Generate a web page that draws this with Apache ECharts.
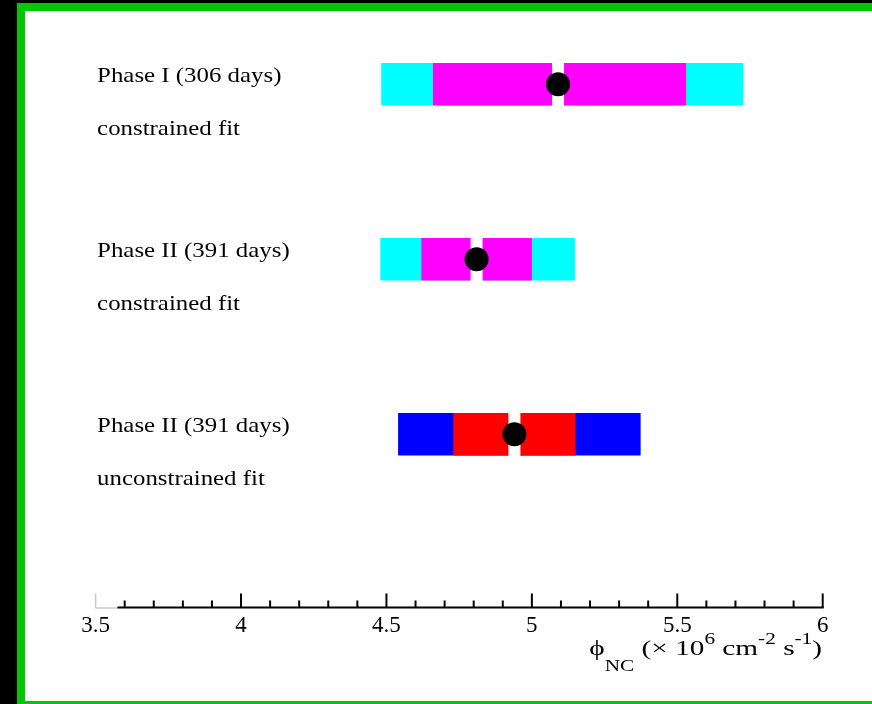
<!DOCTYPE html>
<html>
<head>
<meta charset="utf-8">
<script src="https://cdn.jsdelivr.net/npm/echarts@6/dist/echarts.min.js"></script>
<style>
  html, body { margin: 0; padding: 0; background: #000; width: 872px; height: 704px; overflow: hidden; }
  #frame { position: absolute; left: 17px; top: 3px; width: 855px; height: 701px; box-sizing: border-box;
           background: #fff; border-left: 8px solid #00c800; border-top: 8px solid #00c800; border-bottom: 3px solid #00c800; }
  #chart { position: absolute; left: 0; top: 0; width: 872px; height: 704px; }
</style>
</head>
<body>
<div id="frame"></div>
<div id="chart"></div>
<script>
// NC flux measurements, one row per fit (top to bottom)
const rowTitles = ['Phase I (306 days)', 'Phase II (391 days)', 'Phase II (391 days)'];
const fitTypes  = ['constrained fit', 'constrained fit', 'unconstrained fit'];
const rowPos    = [3, 2, 1];
const central   = [5.09, 4.81, 4.94];
const statLo    = [4.66, 4.62, 4.73];
const statHi    = [5.53, 5.00, 5.15];
const totalLo   = [4.482, 4.479, 4.54];
const totalHi   = [5.727, 5.148, 5.374];
const outerColors = ['#00ffff', '#00ffff', '#0000ff'];
const innerColors = ['#ff00ff', '#ff00ff', '#ff0000'];

// axis ticks
const axisMin = 3.5, axisMax = 6, labelStep = 0.5;
const axisLineStart = 3.575;
const majorTicks = [4.0, 4.5, 5.0, 5.5, 6.0];
const minorTicks = [3.6, 3.7, 3.8, 3.9, 4.1, 4.2, 4.3, 4.4, 4.6, 4.7, 4.8, 4.9,
                    5.1, 5.2, 5.3, 5.4, 5.6, 5.7, 5.8, 5.9];

const SERIF = '"Liberation Serif", "Times New Roman", serif';
const TEXT_STRETCH = 1.13;
const TITLE_STRETCH = 1.33;

const barData = rowPos.map((r, i) => [r, totalLo[i], statLo[i], central[i], statHi[i], totalHi[i]]);

const chart = echarts.init(document.getElementById('chart'), null, { renderer: 'canvas' });

function renderBar(params, api) {
  const i = params.dataIndex;
  const row = api.value(0);
  const yc = api.coord([axisMin, row])[1];
  const half = 21.3;
  const x = v => api.coord([v, row])[0];
  const tLo = x(api.value(1)), sLo = x(api.value(2)), c = x(api.value(3));
  const sHi = x(api.value(4)), tHi = x(api.value(5));
  return {
    type: 'group',
    children: [
      { type: 'rect', shape: { x: tLo, y: yc - half, width: tHi - tLo, height: 2 * half }, style: { fill: outerColors[i] } },
      { type: 'rect', shape: { x: sLo, y: yc - half, width: sHi - sLo, height: 2 * half }, style: { fill: innerColors[i] } },
      { type: 'rect', shape: { x: c - 6, y: yc - half - 1, width: 12, height: 2 * half + 2 }, style: { fill: '#fff' } },
      { type: 'circle', shape: { cx: c, cy: yc, r: 12 }, style: { fill: '#000' } }
    ]
  };
}

function renderRowLabel(params, api) {
  const i = params.dataIndex;
  const row = api.value(0);
  const yc = api.coord([axisMin, row])[1];
  const x0 = params.coordSys.x + 1.5;
  const mk = (text, dy) => ({
    type: 'text', x: x0, y: yc + dy, scaleX: TEXT_STRETCH,
    style: { text, fill: '#000', fontFamily: SERIF, fontSize: 22, align: 'left', verticalAlign: 'middle' }
  });
  return { type: 'group', children: [mk(rowTitles[i], -8), mk(fitTypes[i], 45)] };
}

function renderAxis(params, api) {
  const y0 = params.coordSys.y + params.coordSys.height;
  const px = v => api.coord([v, 1])[0];
  const children = [];
  // faint stub at the axis origin
  children.push({ type: 'line', shape: { x1: px(axisMin), y1: y0 - 14, x2: px(axisMin), y2: y0 + 0.5 }, style: { stroke: '#c8c8c8', lineWidth: 1.5 } });
  children.push({ type: 'line', shape: { x1: px(axisMin), y1: y0 + 0.5, x2: px(axisLineStart), y2: y0 + 0.5 }, style: { stroke: '#c8c8c8', lineWidth: 1.5 } });
  children.push({ type: 'line', shape: { x1: px(axisLineStart), y1: y0, x2: px(axisMax) + 1, y2: y0 }, style: { stroke: '#000', lineWidth: 2 } });
  majorTicks.forEach(v => children.push({ type: 'line', shape: { x1: px(v), y1: y0, x2: px(v), y2: y0 - 14 }, style: { stroke: '#000', lineWidth: 2 } }));
  minorTicks.forEach(v => children.push({ type: 'line', shape: { x1: px(v), y1: y0, x2: px(v), y2: y0 - 7 }, style: { stroke: '#000', lineWidth: 2 } }));
  return { type: 'group', children };
}

chart.setOption({
  animation: false,
  backgroundColor: 'transparent',
  grid: { left: 95.6, right: 49.3, top: 5.5, bottom: 96.5, containLabel: false },
  xAxis: {
    type: 'value', min: axisMin, max: axisMax, interval: labelStep,
    axisLine: { show: false }, axisTick: { show: false }, splitLine: { show: false },
    axisLabel: { show: true, margin: 7, color: '#000', fontFamily: SERIF, fontSize: 23,
                 formatter: v => String(v) }
  },
  yAxis: { type: 'value', min: 0.01, max: 3.45, show: false, splitLine: { show: false } },
  series: [
    { type: 'custom', name: 'axis', renderItem: renderAxis, data: [[0, 0]], silent: true, z: 1 },
    { type: 'custom', name: 'flux', renderItem: renderBar, data: barData,
      encode: { x: [1, 2, 3, 4, 5], y: 0 }, z: 2 },
    { type: 'custom', name: 'labels', renderItem: renderRowLabel, data: rowPos.map(r => [r]),
      encode: { y: 0 }, silent: true, z: 3 }
  ],
  graphic: [{
    type: 'text', x: 822, y: 623, scaleX: TITLE_STRETCH,
    style: {
      text: '{m|ϕ}{sub|NC}{m| (× 10}{sup|6}{m| cm}{sup|-2}{m| s}{sup|-1}{m|)}',
      fill: '#000', fontFamily: SERIF, align: 'right', verticalAlign: 'top',
      rich: {
        m:   { fontFamily: SERIF, fontSize: 22, lineHeight: 52, verticalAlign: 'middle', fill: '#000' },
        sup: { fontFamily: SERIF, fontSize: 16, lineHeight: 52, verticalAlign: 'top', padding: [9, 0, 0, 0], fill: '#000' },
        sub: { fontFamily: SERIF, fontSize: 16, lineHeight: 52, verticalAlign: 'bottom', padding: [0, 0, 0, 0], fill: '#000' }
      }
    }
  }]
});
</script>
</body>
</html>
